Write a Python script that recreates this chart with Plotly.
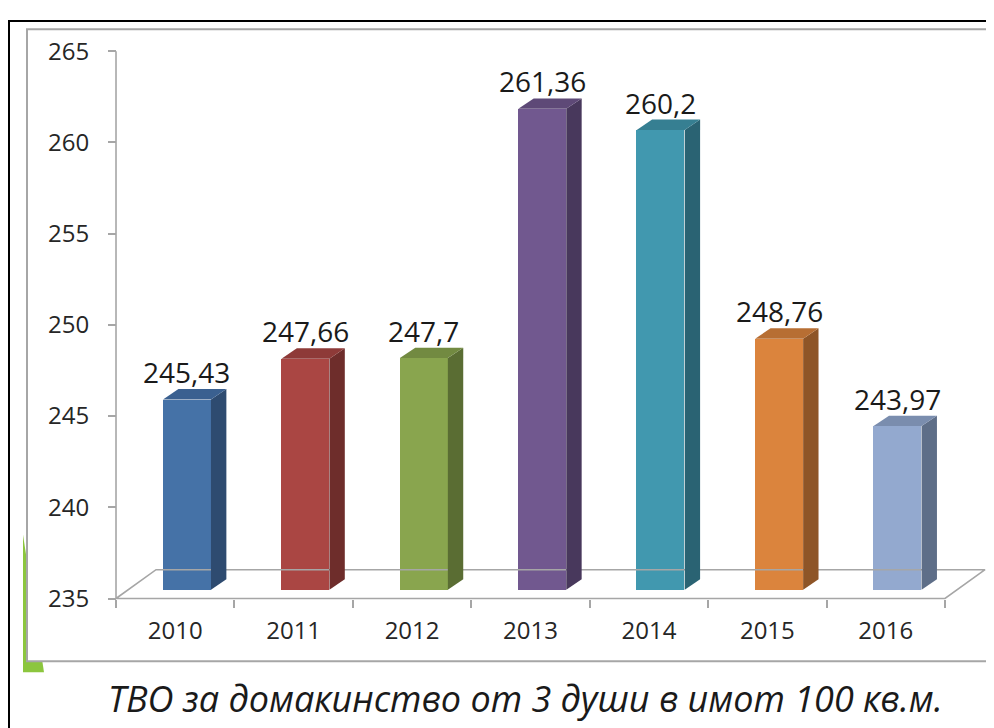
import plotly.graph_objects as go

# ---- data ----
years = ["2010", "2011", "2012", "2013", "2014", "2015", "2016"]
values = [245.43, 247.66, 247.7, 261.36, 260.2, 248.76, 243.97]
front_colors = ["#4572A7", "#AA4643", "#89A54E", "#71588F", "#4198AF", "#DB843D", "#93A9CF"]
side_colors = ["#2E4B70", "#6E2D2B", "#5A6D33", "#48385C", "#2A6373", "#8E5527", "#5E6E88"]
top_colors = ["#3A6090", "#8E3A38", "#728A41", "#5E4977", "#367F92", "#B76E33", "#7A8DAE"]
y_ticks = [235, 240, 245, 250, 255, 260, 265]
title_text = "ТВО за домакинство от 3 души в имот 100 кв.м."

W, H = 994, 728
# page placement compensation (target pixel -> figure pixel)
OX, OY, SY = 8.0, 15.7, 0.9855


def fxp(X):
    return X - OX


def fyp(Y):
    return (Y - OY) / SY


def px(X):
    return fxp(X) / W


def py(Y):
    return (H - fyp(Y)) / H


Y0 = 235
# geometry of the pseudo-3D look (axis units)
OFF = 0.397      # front face left offset inside category
BW = 0.405       # front face width
FB = 0.48        # front face lift above the floor front edge
DX, DY = 0.13, 0.57     # bar depth
FDX, FDY = 0.338, 1.58  # floor depth

# target-pixel mapping for axes
px_per_x = 118.43
px_per_y = 18.333
x_axis_px = 116
y_axis_px = 597
xr = [-0.2, 7.4]
yr = [234.3, 265.3]
xdom = [px(x_axis_px + xr[0] * px_per_x), px(x_axis_px + xr[1] * px_per_x)]
ydom = [py(y_axis_px - (yr[0] - Y0) * px_per_y), py(y_axis_px - (yr[1] - Y0) * px_per_y)]

fig = go.Figure()

# floor + y axis line
n = len(years)
fig.add_trace(go.Scatter(
    x=[0, 0, n, n + FDX, FDX, 0],
    y=[265, Y0, Y0, Y0 + FDY, Y0 + FDY, Y0],
    mode="lines", line=dict(color="#A6A6A6", width=1.6),
    hoverinfo="skip"))

# front faces
xc = [i + OFF + BW / 2 for i in range(n)]
fig.add_trace(go.Bar(
    x=xc, y=[v - Y0 for v in values], base=[Y0 + FB] * n, width=BW,
    marker=dict(color=front_colors, line=dict(width=0)),
    hoverinfo="skip"))

# side and top faces
for i, v in enumerate(values):
    x0 = i + OFF
    x1 = x0 + BW
    b = Y0 + FB
    t = v + FB
    fig.add_trace(go.Scatter(
        x=[x1, x1 + DX, x1 + DX, x1, x1], y=[b, b + DY, t + DY, t, b],
        fill="toself", fillcolor=side_colors[i], mode="lines",
        line=dict(width=0, color=side_colors[i]), hoverinfo="skip"))
    fig.add_trace(go.Scatter(
        x=[x0, x0 + DX, x1 + DX, x1, x0], y=[t, t + DY, t + DY, t, t],
        fill="toself", fillcolor=top_colors[i], mode="lines",
        line=dict(width=0, color=top_colors[i]), hoverinfo="skip"))

annotations = []
for i, v in enumerate(values):
    annotations.append(dict(
        x=xc[i], y=v + FB + DY, xref="x", yref="y", yanchor="bottom",
        text=str(v).replace(".", ","), showarrow=False, yshift=-4,
        font=dict(family="Open Sans", size=28, color="#1a1a1a")))
annotations.append(dict(
    x=px(525), y=py(697), xref="paper", yref="paper",
    xanchor="center", yanchor="middle", text=f"<i>{title_text}</i>",
    showarrow=False, font=dict(family="Open Sans", size=36, color="#1a1a1a")))

shapes = [
    dict(type="rect", xref="paper", yref="paper", x0=px(9), y0=min(py(10), 0.9985), x1=1.02, y1=-0.05,
         line=dict(color="black", width=2), fillcolor="white", layer="below"),
    dict(type="path", xref="paper", yref="paper",
         path=f"M {px(23)} {py(533)} L {px(23)} {py(671)} L {px(44)} {py(671)} Z",
         line=dict(width=0), fillcolor="#8CC63E", layer="below"),
    dict(type="rect", xref="paper", yref="paper", x0=px(27), y0=py(25), x1=1.02, y1=py(660),
         line=dict(color="#A6A6A6", width=2), fillcolor="white", layer="below"),
]

fig.update_layout(
    width=W, height=H, margin=dict(l=0, r=0, t=0, b=0),
    paper_bgcolor="white", plot_bgcolor="rgba(0,0,0,0)",
    showlegend=False, bargap=0,
    annotations=annotations, shapes=shapes,
    xaxis=dict(range=xr, domain=xdom, anchor="free", position=py(y_axis_px),
               showline=False, showgrid=False, zeroline=False,
               tickmode="array", tickvals=[i + 0.5 for i in range(n)], ticktext=years,
               ticks="", ticklabelstandoff=15,
               tickfont=dict(family="Open Sans", size=24, color="#262626"),
               minor=dict(tickmode="linear", tick0=0, dtick=1, ticks="outside",
                          ticklen=8, tickwidth=1.5, tickcolor="#A6A6A6", showgrid=False)),
    yaxis=dict(range=yr, domain=ydom, anchor="free", position=px(x_axis_px),
               showline=False, showgrid=False, zeroline=False,
               tickmode="array", tickvals=y_ticks, ticks="outside", ticklen=8,
               tickwidth=1.5, tickcolor="#A6A6A6", ticklabelstandoff=14,
               tickfont=dict(family="Open Sans", size=24, color="#262626")),
)

fig.write_html("out.html")
